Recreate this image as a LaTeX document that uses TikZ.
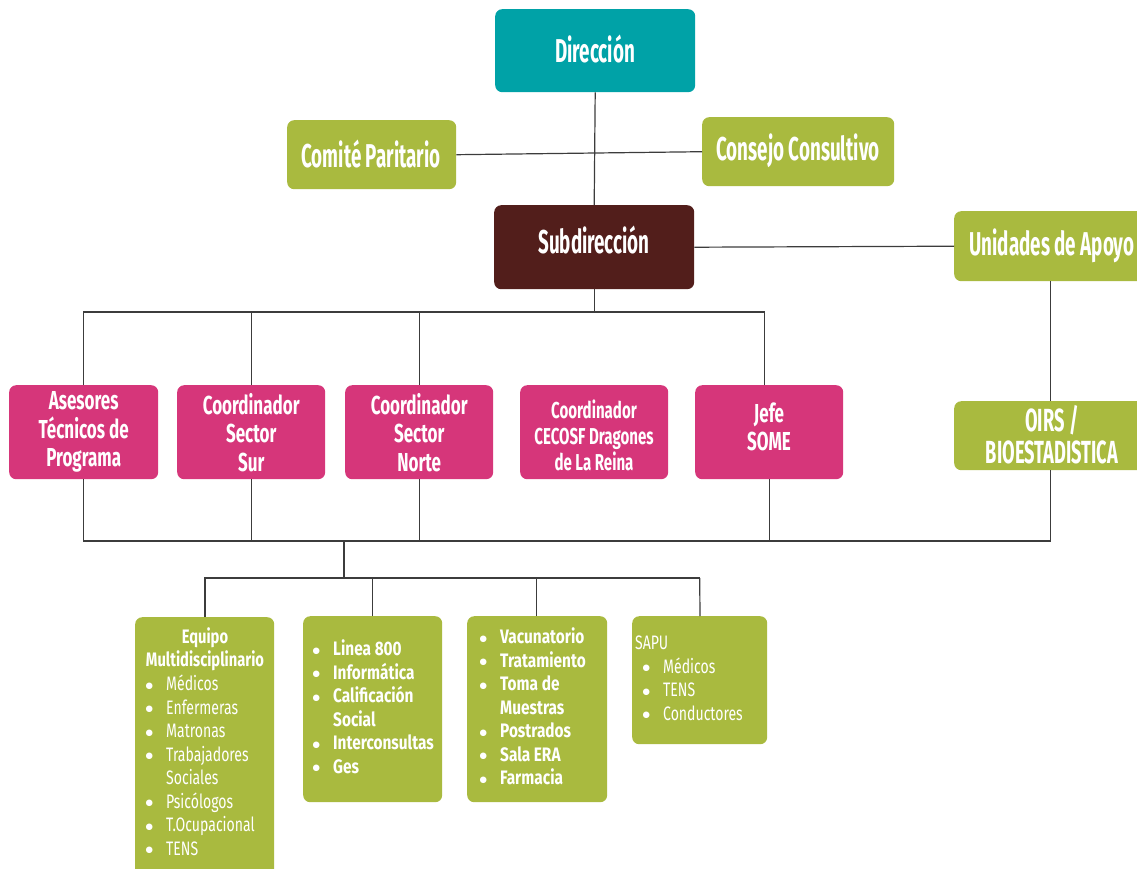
\documentclass[tikz,border=0pt]{standalone}
\usepackage{fontspec}
\setmainfont{Fira Sans}[FakeStretch=0.655]
\newfontfamily\topfont{Fira Sans}[FakeStretch=0.57]
\newfontfamily\lstfont{Fira Sans}[FakeStretch=0.79]
\newfontfamily\lstlight{Fira Sans}[FakeStretch=0.72]
\newfontfamily\headfont{Fira Sans}[FakeStretch=0.755]
\newfontfamily\dvfont{DejaVu Sans}
\definecolor{tealc}{HTML}{00A2A7}
\definecolor{greenc}{HTML}{A9BA3F}
\definecolor{pinkc}{HTML}{D6367A}
\definecolor{brownc}{HTML}{521E1B}
\definecolor{linec}{HTML}{3C3C3C}
\newcommand\bul{\makebox[20pt][l]{\hspace*{-0.5pt}\raisebox{2.2pt}{\dvfont\fontsize{8.5}{8.5}\selectfont ●}}}
\newcommand\li[1]{\bul#1}
\newcommand\lc[1]{\hspace*{20pt}#1}
\begin{document}
\begin{tikzpicture}[x=1pt,y=-1pt,
  box/.style={rounded corners=7pt, inner sep=0pt, anchor=north west},
  bigtext/.style={text=white, font=\topfont\bfseries\fontsize{33}{36}\selectfont, align=center, inner sep=0pt},
  midtext/.style={text=white, font=\bfseries\fontsize{26}{28.5}\selectfont, align=center, inner sep=0pt},
  lst/.style={text=white, font=\lstlight\fontsize{19.5}{23.5}\selectfont, align=left, inner sep=0pt, anchor=north west},
  lstb/.style={lst, font=\lstfont\bfseries\fontsize{19.5}{23.5}\selectfont},
  conn/.style={draw=linec, line width=1.2pt}]
\useasboundingbox (0,0) rectangle (1137,868);

% top level
\node[box, fill=tealc, minimum width=200pt, minimum height=83pt] (dir) at (495,9) {};
\node[bigtext] (dirt) at (595,49) {Dirección};
\node[box, fill=greenc, minimum width=169pt, minimum height=69pt] (com) at (287,120) {};
\node[bigtext] (comt) at (371,154) {Comité Paritario};
\node[box, fill=greenc, minimum width=192pt, minimum height=69pt] (con) at (702,117) {};
\node[bigtext] (cont) at (798,151) {Consejo Consultivo};
\node[box, fill=brownc, minimum width=200pt, minimum height=84pt] (sub) at (494,205) {};
\node[bigtext] (subt) at (594,240) {Subdirección};
\node[box, fill=greenc, minimum width=192pt, minimum height=70pt] (uni) at (954,211) {};
\node[bigtext] (unit) at (1052,246) {Unidades de Apoyo};

% second level
\node[box, fill=pinkc, minimum width=149pt, minimum height=94pt] (ase) at (9,385) {};
\node[midtext] (aset) at (ase.center) {Asesores\\Técnicos de\\Programa};
\node[box, fill=pinkc, minimum width=148pt, minimum height=94pt] (sur) at (177,385) {};
\node[midtext] (surt) at (sur.center) {Coordinador\\Sector\\Sur};
\node[box, fill=pinkc, minimum width=148pt, minimum height=94pt] (nor) at (345,385) {};
\node[midtext] (nort) at (nor.center) {Coordinador\\Sector\\Norte};
\node[box, fill=pinkc, minimum width=148pt, minimum height=94pt] (ces) at (520,385) {};
\node[midtext, font=\bfseries\fontsize{23}{26}\selectfont] (cest) at (594,435) {Coordinador\\CECOSF Dragones\\de La Reina};
\node[box, fill=pinkc, minimum width=148pt, minimum height=94pt] (jef) at (695,385) {};
\node[midtext] (jeft) at (769,427) {Jefe\\SOME};
\node[box, fill=greenc, minimum width=192pt, minimum height=69pt] (oirs) at (954,401) {};
\node[bigtext, font=\topfont\bfseries\fontsize{32}{32}\selectfont] (oirst) at (1052,435) {OIRS /\\BIOESTADISTICA};

% third level
\node[box, fill=greenc, minimum width=139pt, minimum height=270pt] (eq) at (135,617) {};
\node[text=white, font=\headfont\bfseries\fontsize{19.5}{23.5}\selectfont, align=center, inner sep=0pt] (eqh) at (205,649) {Equipo\\Multidisciplinario};
\node[lst] (eql) at (146,674) {\strut\li{Médicos}\\\li{Enfermeras}\\\li{Matronas}\\\li{Trabajadores}\\\lc{Sociales}\\\li{Psicólogos}\\\li{T.Ocupacional}\\\li{TENS}};

\node[box, fill=greenc, minimum width=139pt, minimum height=186pt] (lin) at (303,616) {};
\node[lstb] (linl) at (313,639) {\strut\li{Linea 800}\\\li{Informática}\\\li{Calificación}\\\lc{Social}\\\li{Interconsultas}\\\li{Ges}};

\node[box, fill=greenc, minimum width=140pt, minimum height=186pt] (vac) at (467,616) {};
\node[lstb] (vacl) at (480,627) {\strut\li{Vacunatorio}\\\li{Tratamiento}\\\li{Toma de}\\\lc{Muestras}\\\li{Postrados}\\\li{Sala ERA}\\\li{Farmacia}};

\node[box, fill=greenc, minimum width=135pt, minimum height=128pt] (sapu) at (632,616) {};
\node[lst] (sapul) at (635,633) {\strut SAPU\\\hspace*{8pt}\li{Médicos}\\\hspace*{8pt}\li{TENS}\\\hspace*{8pt}\li{Conductores}};

% connectors
\coordinate (tb) at (0,312);
\coordinate (bb) at (0,541);
\coordinate (sb) at (0,578);
\coordinate (mid) at (344,541);
\draw[conn] (dir.south) -- (sub.north);
\draw[conn] (com.east) -- (con.west);
\draw[conn] (sub.east) -- (uni.west);
\draw[conn] (uni.south -| oirs.north) -- (oirs.north);
\draw[conn] (sub.south) -- (sub.south |- tb);
\draw[conn] (ase.north) |- ([xshift=-5pt]jef.north |- tb) -- ([xshift=-5pt]jef.north);
\draw[conn] (sur.north) -- (sur.north |- tb);
\draw[conn] (nor.north) -- (nor.north |- tb);
\draw[conn] (ase.south) |- (oirs.south |- bb) -- (oirs.south);
\draw[conn] (sur.south) -- (sur.south |- bb);
\draw[conn] (nor.south) -- (nor.south |- bb);
\draw[conn] (jef.south) -- (jef.south |- bb);
\draw[conn] (mid) -- (mid |- sb);
\draw[conn] (eq.north -| eqh) |- (sapu.north |- sb);
\draw[conn] (lin.north) -- (lin.north |- sb);
\draw[conn] ([xshift=-0.5pt]vac.north) -- ([xshift=-0.5pt]vac.north |- sb);
\draw[conn] (sapu.north -| 700,0) -- (sapu.north |- sb);
\end{tikzpicture}
\end{document}
